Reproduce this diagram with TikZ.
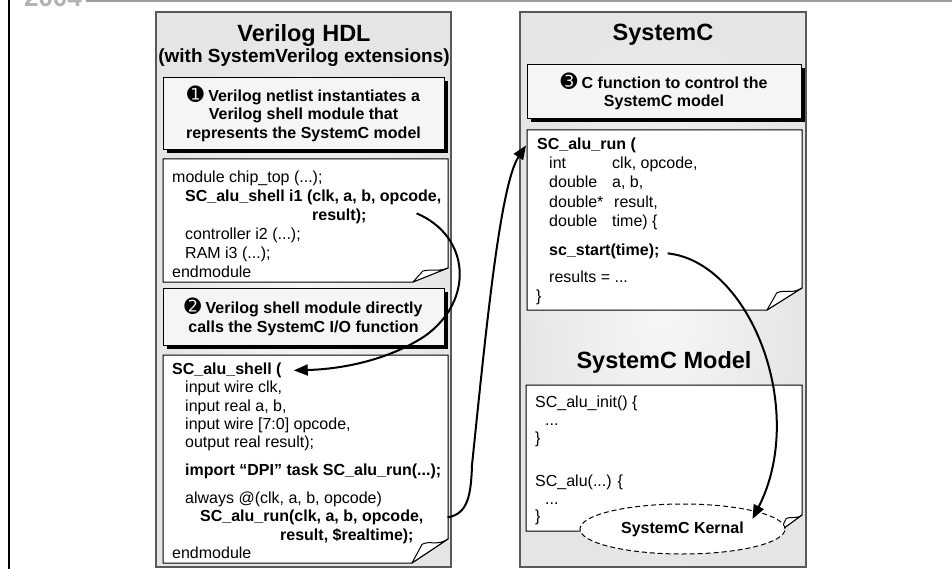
\documentclass[tikz,border=0pt]{standalone}
\usepackage{fontspec}
\setmainfont{Liberation Sans}
\newfontfamily\dejavu{DejaVu Sans}
\usetikzlibrary{arrows.meta,shadows,calc,shapes.geometric}
\newcommand\bul[1]{{\dejavu\fontsize{20}{18}\selectfont #1}}
\newcommand\foldedbox[6]{%
  \draw[codeframe] (#1,#2) -- (#3,#2) -- (#3,{#4-#6}) -- ({#3-#5},#4) -- (#1,#4) -- cycle;
  \draw[codeframe, line join=round] ({#3-#5},#4) -- ({#3-0.72*#5},{#4-0.78*#6}) .. controls ({#3-0.5*#5},{#4-0.95*#6}) and ({#3-0.3*#5},{#4-0.7*#6}) .. (#3,{#4-#6}) -- cycle;
}
\begin{document}
\begin{tikzpicture}[x=1pt,y=-1pt,
  panelframe/.style={draw=black!65, line width=1.5pt},
  codeframe/.style={draw=black, line width=1pt, fill=white},
  hbox/.style={draw=black, line width=0.8pt, fill=black!4, align=center, inner sep=0pt,
    font=\fontsize{16}{18.5}\selectfont\bfseries,
    drop shadow={shadow xshift=3.5pt, shadow yshift=-3.5pt, fill=black, opacity=1}},
  title/.style={anchor=base, inner sep=0pt, font=\fontsize{23.5}{26}\selectfont\bfseries},
  subtitle/.style={anchor=base, inner sep=0pt, font=\fontsize{19}{22}\selectfont\bfseries},
  code/.style={anchor=base west, inner sep=0pt, font=\fontsize{16}{19}\selectfont},
  codeb/.style={anchor=base west, inner sep=0pt, font=\fontsize{16}{19}\selectfont\bfseries},
  conn/.style={line width=2pt, -{Triangle[length=14pt,width=11pt]}},
  kernel/.style={ellipse, draw=black, line width=1pt, dash pattern=on 5pt off 3pt, fill=white,
    minimum width=205pt, minimum height=50pt, inner sep=0pt, font=\fontsize{16}{19}\selectfont\bfseries}
]
\useasboundingbox (0,0) rectangle (952,569);
\clip (0,0) rectangle (952,569);

% page decorations
\node[anchor=base, inner sep=0pt, font=\fontsize{26}{26}\selectfont\bfseries, text=gray!60] (logo) at (53,7) {2004};
\draw[gray!75, line width=1.5pt] (86,1) -- (952,1);
\draw[black, line width=2pt] (9,0) -- (9,569);

% panels
\shade[inner color=white!97!black, outer color=black!10] (156,12) rectangle (451,567);
\draw[panelframe] (156,12) rectangle (451,567);
\shade[inner color=white!97!black, outer color=black!10] (520,12) rectangle (806,567);
\draw[panelframe] (520,12) rectangle (806,567);

% left panel
\node[title] (tv) at (304,41.5) {Verilog HDL};
\node[subtitle] (tvs) at (304,63) {(with SystemVerilog extensions)};
\node[hbox, minimum width=281pt, minimum height=72pt] (h1) at (303.5,113.5)
  {\bul{➊} Verilog netlist instantiates a\\Verilog shell module that\\represents the SystemC model};

\foldedbox{163}{159}{448}{282}{35}{14}
\node[code] (m1) at (172,182.5) {module chip\_top (...);};
\node[codeb] (inst) at (185,201.5) {SC\_alu\_shell i1 (clk, a, b, opcode,};
\node[codeb] (instr) at (312,220.5) {result);};
\node[code] (ctrl) at (185,239.5) {controller i2 (...);};
\node[code] (ram) at (185,258.5) {RAM i3 (...);};
\node[code] (e1) at (172,277) {endmodule};

\node[hbox, minimum width=281pt, minimum height=57pt] (h2) at (303.5,317)
  {\bul{➋} Verilog shell module directly\\calls the SystemC I/O function};

\foldedbox{163}{355}{448}{563}{36}{24}
\node[codeb] (shell) at (172,374.5) {SC\_alu\_shell (};
\node[code] (p1) at (185,392.8) {input wire clk,};
\node[code] (p2) at (185,411.1) {input real a, b,};
\node[code] (p3) at (185,429.4) {input wire [7:0] opcode,};
\node[code] (p4) at (185,447.7) {output real result);};
\node[codeb] (imp) at (185,475.5) {import “DPI” task SC\_alu\_run(...);};
\node[code] (alw) at (185,503.5) {always @(clk, a, b, opcode)};
\node[codeb] (run) at (200,521.5) {SC\_alu\_run(clk, a, b, opcode,};
\node[codeb] (runr) at (280,540) {result, \$realtime);};
\node[code] (e2) at (172,558.5) {endmodule};

% right panel
\node[title] (ts) at (663,40.5) {SystemC};
\node[hbox, minimum width=274pt, minimum height=54pt] (h3) at (664,91.5)
  {\bul{➌} C function to control the\\SystemC model};

\foldedbox{527}{130}{802}{310}{35}{22}
\node[codeb] (scrun) at (537,149.5) {SC\_alu\_run (};
\node[code] (r1a) at (549,168.5) {int};
\node[code] (r1b) at (612,168.5) {clk, opcode,};
\node[code] (r2a) at (549,188) {double};
\node[code] (r2b) at (612,188) {a, b,};
\node[code] (r3a) at (549,207.5) {double*};
\node[code] (r3b) at (614,207.5) {result,};
\node[code] (r4a) at (549,227) {double};
\node[code] (r4b) at (612,227) {time) \{};
\node[codeb] (scstart) at (549,255.5) {sc\_start(time);};
\node[code] (res) at (549,282) {results = ...};
\node[code] (cl3) at (536,301) {\}};

\node[title] (tm) at (664,368.5) {SystemC Model};
\foldedbox{526}{385}{802}{531}{22}{16}
\node[code] (i1) at (535,407.5) {SC\_alu\_init() \{};
\node[code] (i2) at (545,425.5) {...};
\node[code] (i3) at (535,443.5) {\}};
\node[code] (a1) at (535,486.5) {SC\_alu(...) \{};
\node[code] (a2) at (545,504) {...};
\node[code] (a3) at (535,521.5) {\}};
\node[kernel] (kern) at (682.5,529) {SystemC Kernal};

% connectors
\coordinate (a1s) at ($(instr.east)+(50,-3)$);
\coordinate (a1e) at ($(shell.east)+(12,0)$);
\draw[conn] (a1s) .. controls (470,236) and (475,300) .. (425,336) .. controls (390,359) and (345,369) .. (a1e);

\coordinate (a2s) at ($(run.east)+(24,0)$);
\coordinate (a2e) at ($(scrun.west)+(-11,0)$);
\draw[conn] (a2s) .. controls (468,514) and (471,495) .. (472,465) .. controls (486,330) and (500,185) .. (a2e);

\coordinate (a3s) at ($(scstart.east)+(8,2)$);
\coordinate (a3e) at ($(kern.center)+(70,-10)$);
\draw[conn] (a3s) .. controls (750,262) and (808,410) .. (a3e);
\end{tikzpicture}
\end{document}
